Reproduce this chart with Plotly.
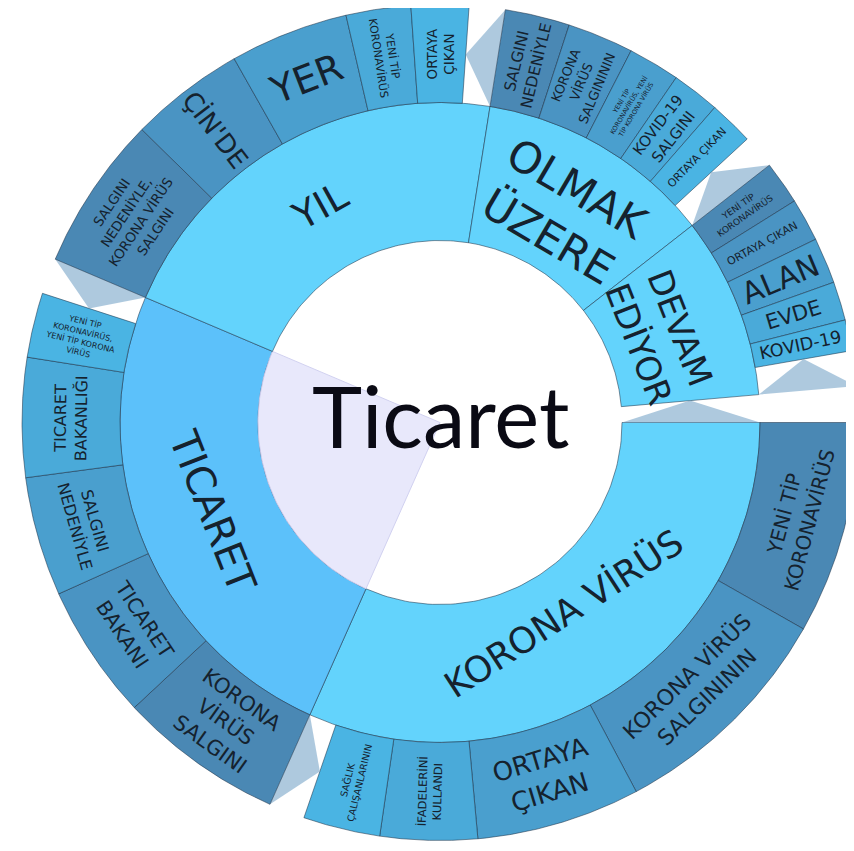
import numpy as np
import plotly.graph_objects as go

# ---------------- data (arc units) ----------------
root_label = "Ticaret"
root_value = 360

level1_labels = ["KORONA VİRÜS", "TICARET", "YIL", "OLMAK<br>ÜZERE", "DEVAM<br>EDİYOR"]
level1_values = [114, 89, 76, 43, 33]

korona_labels = ["YENİ TİP<br>KORONAVİRÜS", "KORONA VİRÜS<br>SALGINININ", "ORTAYA<br>ÇIKAN",
                 "İFADELERİNİ<br>KULLANDI", "SAĞLIK<br>ÇALIŞANLARININ"]
korona_values = [29.6, 32.4, 22.8, 13.5, 10.7]

ticaret_labels = ["KORONA<br>VİRÜS<br>SALGINI", "TICARET<br>BAKANI", "SALGINI<br>NEDENİYLE",
                  "TICARET<br>BAKANLIĞI", "YENİ TİP<br>KORONAVİRÜS,<br>YENİ TİP KORONA<br>VİRÜS"]
ticaret_values = [23, 18.8, 16.6, 16.6, 9]

yil_labels = ["SALGINI<br>NEDENİYLE,<br>KORONA VİRÜS<br>SALGINI", "ÇİN'DE", "YER",
              "YENİ TİP<br>KORONAVİRÜS", "ORTAYA<br>ÇIKAN"]
yil_values = [21.5, 16, 16.5, 9, 8]

olmak_labels = ["SALGINI<br>NEDENİYLE", "KORONA<br>VİRÜS<br>SALGINININ",
                "YENİ TİP<br>KORONAVİRÜS, YENİ<br>TİP KORONA VİRÜS", "KOVID-19<br>SALGINI", "ORTAYA ÇIKAN"]
olmak_values = [9, 9.2, 7.2, 6.7, 6.2]

devam_labels = ["YENİ TİP<br>KORONAVİRÜS", "ORTAYA ÇIKAN", "ALAN", "EVDE", "KOVID-19"]
devam_values = [6, 6, 6.4, 5.4, 4.3]

children_labels = [korona_labels, ticaret_labels, yil_labels, olmak_labels, devam_labels]
children_values = [korona_values, ticaret_values, yil_values, olmak_values, devam_values]

# ---------------- style ----------------
R0, R1, R2 = 182, 320, 418
level1_colors = ["#63d3fc", "#5cc1fa", "#63d3fc", "#63d3fc", "#63d3fc"]
outer_palette = ["#4a88b4", "#4a94c3", "#4a9fce", "#4aaad9", "#4ab4e3"]
level1_font = [36, 40, 38, 43, 34]
level1_rtext = [228, 244, 247, 243, 236]
outer_font = [[20, 22, 26, 11.5, 9.5],
              [21, 20.5, 16, 16, 8],
              [13.5, 26, 38, 11, 13.5],
              [15.5, 13, 6.5, 15, 11],
              [9, 11, 30, 21, 17.5]]
outer_orient = [["t", "t", "t", "r", "r"],
                ["t", "t", "t", "t", "r"],
                ["t", "r", "t", "r", "r"],
                ["r"] * 5,
                ["r"] * 5]
edge_color = "rgba(25,45,65,0.65)"
tri_color = "rgba(120,165,200,0.6)"
text_color = "#15222e"
FONT = "DejaVu Sans"

# figure pixel geometry (page has an 8px body margin)
FIG_W, FIG_H = 846, 835
CX, CY = 432, 414.5   # centre of the rings inside the figure, in px from top-left

scale = 360.0 / root_value


def norm(a):
    return (a + 180) % 360 - 180


def sector(r_in, r_out, a0, a1, n=80):
    t = np.radians(np.linspace(a0, a1, n))
    xo, yo = r_out * np.cos(t), r_out * np.sin(t)
    if r_in > 0:
        xi, yi = r_in * np.cos(t[::-1]), r_in * np.sin(t[::-1])
    else:
        xi, yi = np.array([0.0]), np.array([0.0])
    x = np.concatenate([xo, xi, xo[:1]])
    y = np.concatenate([yo, yi, yo[:1]])
    return x, y


def polar(r, a):
    return r * np.cos(np.radians(a)), r * np.sin(np.radians(a))


def text_angle(a, mode):
    a = norm(a)
    if mode == "t":
        return 90 - a if a >= 0 else -90 - a
    ta = -a
    if ta > 90:
        ta -= 180
    elif ta < -90:
        ta += 180
    return ta


fig = go.Figure()
annotations = []


def add_poly(x, y, fill, line_color, width=0.8):
    fig.add_trace(go.Scatter(x=x, y=y, mode="lines", fill="toself", fillcolor=fill,
                             line=dict(color=line_color, width=width), hoverinfo="skip",
                             showlegend=False))


def add_tri(a_base, a_apex, r_in, r_out):
    xb0, yb0 = polar(r_in, a_base)
    xb1, yb1 = polar(r_out, a_base)
    xa, ya = polar((r_in + r_out) / 2, a_apex)
    fig.add_trace(go.Scatter(x=[xb0, xb1, xa, xb0], y=[yb0, yb1, ya, yb0], mode="lines",
                             fill="toself", fillcolor=tri_color, line=dict(width=0),
                             hoverinfo="skip", showlegend=False))


def add_text(label, r, a, size, mode):
    x, y = polar(r, a)
    annotations.append(dict(x=x, y=y, xref="x", yref="y", text=label, showarrow=False,
                            textangle=text_angle(a, mode),
                            font=dict(family=FONT, size=size, color=text_color),
                            xanchor="center", yanchor="middle"))


# level 1 ring and level 2 ring
a = 0.0
for i, (lab, val) in enumerate(zip(level1_labels, level1_values)):
    a0, a1 = a, a - val * scale
    x, y = sector(R0, R1, a0, a1)
    add_poly(x, y, level1_colors[i], edge_color)
    add_text(lab, level1_rtext[i], (a0 + a1) / 2, level1_font[i], "t")
    if lab == "TICARET":
        wx, wy = sector(0, R0, a0, a1)
        add_poly(wx, wy, "rgba(231,231,251,0.95)", "rgba(205,205,238,0.9)", 1)
    c = a0
    for j, (clab, cval) in enumerate(zip(children_labels[i], children_values[i])):
        c0, c1 = c, c - cval * scale
        x, y = sector(R1, R2, c0, c1)
        add_poly(x, y, outer_palette[j], edge_color)
        add_text(clab, (R1 + R2) / 2, (c0 + c1) / 2, outer_font[i][j], outer_orient[i][j])
        c = c1
    add_tri(a1, c, R1, R2)
    a = a1

# gap of the first ring
add_tri(-360.0, a, R0, R1)

annotations.append(dict(x=0, y=8, xref="x", yref="y", text=root_label, showarrow=False,
                        font=dict(family="Lato", size=85, color="#0a0a14"),
                        xanchor="center", yanchor="middle"))

fig.update_layout(
    width=FIG_W, height=FIG_H,
    margin=dict(l=0, r=0, t=0, b=0),
    paper_bgcolor="white", plot_bgcolor="white",
    xaxis=dict(range=[-CX, FIG_W - CX], visible=False, fixedrange=True),
    yaxis=dict(range=[-(FIG_H - CY), CY], visible=False, fixedrange=True),
    annotations=annotations,
    showlegend=False,
)

fig.write_html("out.html")
